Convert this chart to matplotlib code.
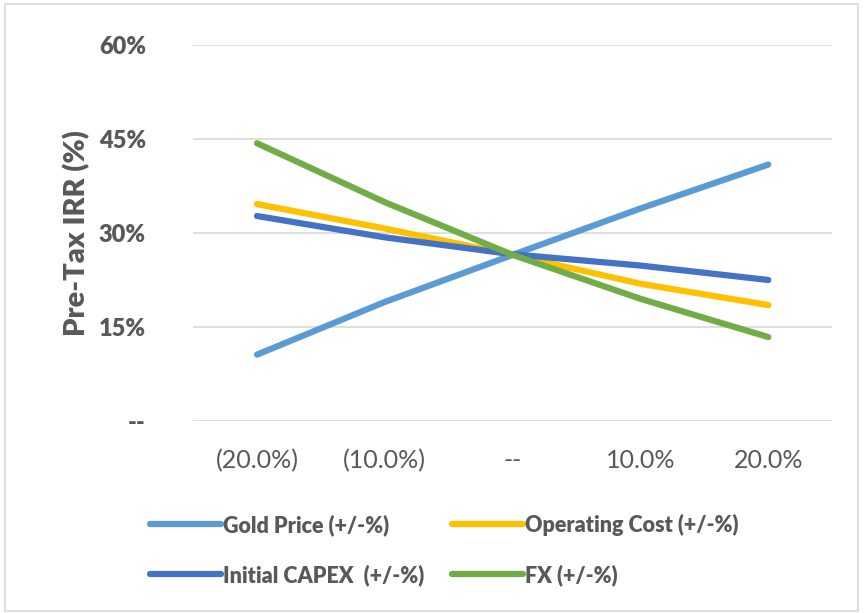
import matplotlib.pyplot as plt
from matplotlib.patches import Rectangle

categories = ["(20.0%)", "(10.0%)", "--", "10.0%", "20.0%"]
gold_price = [10.6, 19.0, 26.5, 33.9, 40.9]
operating_cost = [34.6, 30.7, 26.5, 21.9, 18.5]
initial_capex = [32.7, 29.3, 26.6, 24.8, 22.5]
fx = [44.3, 34.9, 26.5, 19.5, 13.4]

series = [
    ("Gold Price (+/-%)", gold_price, "#5b9bd5"),
    ("Operating Cost (+/-%)", operating_cost, "#ffc000"),
    ("Initial CAPEX  (+/-%)", initial_capex, "#4472c4"),
    ("FX (+/-%)", fx, "#70ad47"),
]

plt.rcParams["font.family"] = ["Lato", "DejaVu Sans"]
grey = "#595959"

fig = plt.figure(figsize=(8.66, 6.13), dpi=100)
fig.patches.append(Rectangle((0.006, 0.004), 0.985, 0.99, transform=fig.transFigure,
                             fill=False, edgecolor="#d9d9d9", linewidth=1.2))
ax = fig.add_axes([0.223, 0.313, 0.738, 0.614])

x = range(len(categories))
handles = []
for label, vals, color in series:
    h, = ax.plot(x, vals, color=color, linewidth=4.5, solid_capstyle="round",
                 solid_joinstyle="round", label=label)
    handles.append(h)

ax.set_xlim(-0.5, len(categories) - 0.5)
ax.set_ylim(0, 60)
ax.set_yticks([0, 15, 30, 45, 60])
ax.set_yticklabels(["--", "15%", "30%", "45%", "60%"], fontsize=17, fontweight="heavy", color=grey)
ax.set_xticks(list(x))
ax.set_xticklabels(categories, fontsize=18, color=grey)
ax.tick_params(axis="both", length=0)
ax.tick_params(axis="y", pad=34)
ax.tick_params(axis="x", pad=20)
ax.grid(axis="y", color="#d9d9d9", linewidth=1.2)
ax.set_axisbelow(True)
for s in ax.spines.values():
    s.set_visible(False)
ax.set_ylabel("Pre-Tax IRR (%)", fontsize=21, fontweight="heavy", color=grey, labelpad=6)

order = [handles[0], handles[2], handles[1], handles[3]]
fig.legend(order, [h.get_label() for h in order], ncol=2, loc="center",
           bbox_to_anchor=(0.513, 0.103), frameon=False, handlelength=3.3,
           handletextpad=0.1, columnspacing=1.3, labelspacing=1.3,
           prop={"size": 15.5, "weight": "heavy"}, labelcolor=grey)

fig.savefig("out.png", dpi=100)
